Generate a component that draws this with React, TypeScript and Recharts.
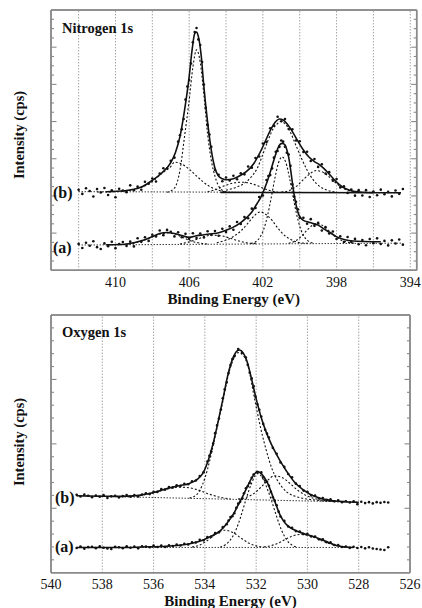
import React from 'react';
import { ComposedChart, Line, Scatter, XAxis, YAxis, ReferenceLine } from 'recharts';

type Pt = [number, number];

// ---------------- Nitrogen 1s panel ----------------
const nTitle = 'Nitrogen 1s';
const nXDomain: [number, number] = [393.65, 413.5];
const nYDomain: [number, number] = [0, 70];
const nLabelTicks = [394, 398, 402, 406, 410];
const nGridTicks = [394, 396, 398, 400, 402, 404, 406, 408, 410, 412];
const nMinorXTicks = [394, 394.5, 395, 395.5, 396, 396.5, 397, 397.5, 398, 398.5, 399, 399.5, 400, 400.5, 401, 401.5, 402, 402.5, 403, 403.5, 404, 404.5, 405, 405.5, 406, 406.5, 407, 407.5, 408, 408.5, 409, 409.5, 410, 410.5, 411, 411.5, 412, 412.5, 413];
const nYTicks = [2.5, 5, 7.5, 10, 12.5, 15, 17.5, 20, 22.5, 25, 27.5, 30, 32.5, 35, 37.5, 40, 42.5, 45, 47.5, 50, 52.5, 55, 57.5, 60, 62.5, 65, 67.5];
const nCurveLabelPos = [20.7, 5.9];
const nCurveLabelText = ['(b)', '(a)'];

// spectrum (b)
const nBaseB: Pt[] = [[412, 21.15], [394.5, 20.85]];
const nBaseBSolid: Pt[] = [[404.3, 20.95], [394.5, 20.85]];
const nFitB: Pt[] = [[410.5, 21.13], [409.5, 21.4], [409.0, 21.81], [408.5, 22.61], [408.0, 24.2], [407.5, 26.11], [407.0, 28.94], [406.75, 31.63], [406.5, 35.93], [406.25, 43.06], [406.0, 52.07], [405.85, 58.93], [405.7, 63.64], [405.6, 64.04], [405.5, 62.83], [405.35, 57.85], [405.2, 49.25], [405.0, 39.83], [404.8, 32.3], [404.6, 27.46], [404.4, 25.3], [404.2, 24.63], [404.0, 24.36], [403.6, 24.63], [403.2, 25.57], [402.9, 26.51], [402.5, 28.67], [402.2, 31.22], [401.9, 34.35], [401.6, 37.58], [401.3, 40.0], [401.1, 40.67], [400.9, 40.4], [400.7, 39.46], [400.4, 37.31], [400.1, 34.75], [399.8, 32.33], [399.5, 30.45], [399.2, 29.24], [398.9, 28.3], [398.6, 26.95], [398.3, 25.34], [398.0, 23.72], [397.7, 22.51], [397.4, 21.71], [397.0, 21.17], [396.5, 20.98], [396.0, 20.9]];
const nB1: Pt[] = [[411.0, 21.05], [410.0, 21.13], [409.0, 21.7], [408.5, 22.5], [408.0, 23.9], [407.5, 26.0], [407.0, 27.9], [406.8, 29.07], [406.5, 28.8], [406.0, 27.19], [405.5, 24.9], [405.0, 22.88], [404.5, 21.67], [404.0, 21.13]];
const nB2: Pt[] = [[407.2, 21.0], [406.8, 22.08], [406.5, 26.92], [406.25, 36.06], [406.0, 45.75], [405.8, 54.6], [405.6, 59.3], [405.4, 56.0], [405.2, 47.09], [405.0, 36.6], [404.8, 29.61], [404.6, 25.3], [404.3, 21.94], [404.0, 21.13]];
const nB3: Pt[] = [[405.0, 21.13], [404.5, 21.81], [404.0, 22.88], [403.5, 23.56], [403.1, 23.69], [402.7, 23.42], [402.3, 22.75], [401.8, 21.71], [401.2, 21.03]];
const nB4: Pt[] = [[404.0, 21.54], [403.5, 22.21], [403.0, 23.42], [402.6, 25.3], [402.3, 27.46], [402.0, 31.22], [401.7, 35.16], [401.4, 38.39], [401.2, 39.46], [401.05, 40.0], [400.8, 39.46], [400.5, 37.04], [400.2, 33.54], [399.9, 30.05], [399.6, 26.95], [399.3, 24.53], [399.0, 22.92], [398.6, 21.71], [398.0, 21.03]];
const nB5: Pt[] = [[401.0, 21.03], [400.5, 21.57], [400.1, 22.92], [399.8, 24.4], [399.5, 25.74], [399.1, 26.82], [398.7, 26.28], [398.3, 24.67], [397.9, 22.92], [397.5, 21.71], [397.0, 21.03]];
const nDotsB: Pt[] = [[412.0, 21.65], [411.8, 20.55], [411.6, 22.05], [411.4, 21.34], [411.2, 19.84], [411.0, 21.84], [410.8, 20.93], [410.6, 22.13], [410.4, 20.26], [410.2, 21.5], [410.0, 19.65], [409.8, 21.9], [409.6, 21.47], [409.4, 20.97], [409.2, 22.84], [409.0, 21.51], [408.8, 22.5], [408.6, 21.65], [408.4, 23.8], [408.2, 23.3], [408.0, 24.69], [407.8, 23.9], [407.6, 26.0], [407.4, 27.45], [407.2, 27.4], [407.0, 29.44], [406.8, 30.3], [406.6, 34.6], [406.5, 36.3], [406.4, 37.9], [406.3, 40.7], [406.2, 45.9], [406.1, 49.4], [406.0, 51.17], [405.9, 55.6], [405.8, 61.3], [405.7, 64.1], [405.6, 65.14], [405.5, 62.1], [405.4, 60.6], [405.3, 56.0], [405.2, 49.95], [405.1, 43.7], [405.0, 39.03], [404.9, 36.5], [404.8, 33.2], [404.6, 26.96], [404.4, 25.7], [404.2, 23.93], [404.0, 24.96], [403.8, 24.15], [403.6, 25.43], [403.4, 24.5], [403.2, 26.07], [403.0, 25.8], [402.8, 27.9], [402.6, 27.6], [402.4, 30.2], [402.2, 30.62], [402.0, 34.1], [401.8, 34.5], [401.6, 38.18], [401.4, 38.9], [401.2, 41.3], [401.0, 40.1], [400.8, 40.7], [400.6, 38.0], [400.4, 37.91], [400.2, 34.9], [400.0, 34.7], [399.8, 31.83], [399.6, 31.9], [399.4, 29.4], [399.2, 29.94], [399.0, 27.8], [398.8, 28.5], [398.6, 26.05], [398.4, 26.4], [398.2, 24.1], [398.0, 24.52], [397.8, 22.3], [397.6, 22.6], [397.4, 20.81], [397.2, 21.7], [397.0, 20.07], [396.8, 21.55], [396.6, 20.1], [396.4, 21.56], [396.2, 19.73], [396.0, 21.2], [395.8, 20.2], [395.6, 21.69], [395.4, 20.48], [395.2, 21.08], [395.0, 19.87], [394.8, 21.47], [394.6, 20.56], [394.4, 21.86]];

// spectrum (a)
const nBaseA: Pt[] = [[412, 6.8], [394.5, 7.3]];
const nFitA: Pt[] = [[410.5, 6.84], [409.5, 7.0], [409.0, 7.43], [408.5, 8.11], [408.0, 9.07], [407.6, 9.89], [407.2, 10.17], [406.8, 9.91], [406.4, 9.38], [406.0, 8.86], [405.6, 9.28], [405.2, 9.55], [404.8, 9.83], [404.4, 10.11], [404.0, 10.8], [403.6, 11.62], [403.2, 12.84], [402.87, 14.22], [402.6, 15.68], [402.33, 17.84], [402.1, 19.73], [401.88, 22.32], [401.7, 24.85], [401.52, 27.71], [401.35, 30.5], [401.2, 32.67], [401.07, 33.88], [400.95, 34.14], [400.8, 33.75], [400.7, 32.41], [400.6, 30.43], [400.47, 26.23], [400.34, 21.47], [400.2, 17.64], [400.07, 15.22], [399.95, 14.14], [399.8, 13.43], [399.5, 12.95], [399.26, 12.55], [399.0, 12.15], [398.72, 11.22], [398.4, 10.29], [397.99, 8.98], [397.6, 8.3], [397.09, 7.86], [396.5, 7.74], [395.6, 7.68]];
const nA0: Pt[] = [[406.5, 7.09], [406.0, 7.65], [405.5, 8.47], [405.0, 9.29], [404.7, 9.43], [404.3, 9.31], [403.8, 8.65], [403.3, 7.87], [402.8, 7.34], [402.3, 7.16]];
const nA1: Pt[] = [[409.5, 6.95], [409.0, 7.29], [408.5, 7.98], [408.0, 8.94], [407.6, 9.75], [407.2, 10.03], [406.8, 9.77], [406.4, 8.98], [406.0, 8.06], [405.5, 7.39], [405.0, 7.08]];
const nA2: Pt[] = [[404.5, 7.42], [404.0, 8.12], [403.6, 9.07], [403.2, 10.56], [402.8, 12.72], [402.5, 14.48], [402.15, 15.7], [401.8, 14.9], [401.5, 13.43], [401.2, 11.42], [400.8, 9.28], [400.4, 8.08], [400.0, 7.42], [399.5, 7.25]];
const nA3: Pt[] = [[402.65, 7.21], [402.35, 7.81], [402.15, 8.92], [401.95, 11.08], [401.75, 14.63], [401.55, 19.45], [401.35, 24.72], [401.15, 28.93], [400.95, 30.51], [400.75, 28.94], [400.55, 24.75], [400.35, 19.48], [400.15, 14.68], [399.95, 11.13], [399.75, 8.99], [399.55, 7.9], [399.25, 7.3]];
const nA4: Pt[] = [[400.6, 7.27], [400.2, 7.96], [399.9, 9.17], [399.6, 10.8], [399.3, 12.15], [399.1, 12.56], [398.8, 12.16], [398.5, 10.96], [398.1, 9.23], [397.7, 8.03], [397.3, 7.45], [397.0, 7.29]];
const nDotsA: Pt[] = [[412.0, 7.1], [411.8, 6.0], [411.6, 7.41], [411.4, 6.62], [411.2, 7.82], [411.0, 6.23], [410.8, 5.73], [410.6, 7.24], [410.4, 6.45], [410.2, 7.66], [410.0, 5.96], [409.8, 7.07], [409.6, 7.6], [409.4, 6.55], [409.2, 7.7], [409.0, 6.43], [408.8, 8.6], [408.6, 7.65], [408.4, 8.9], [408.2, 7.9], [408.0, 9.57], [407.8, 9.1], [407.6, 10.69], [407.4, 9.45], [407.2, 10.87], [407.0, 10.35], [406.8, 9.11], [406.6, 10.25], [406.4, 8.88], [406.2, 9.8], [406.0, 8.46], [405.8, 9.97], [405.6, 8.68], [405.4, 9.9], [405.2, 8.85], [405.0, 10.5], [404.8, 9.53], [404.6, 10.57], [404.4, 9.31], [404.2, 11.15], [404.0, 10.3], [403.8, 11.8], [403.6, 10.92], [403.4, 13.0], [403.2, 12.44], [403.0, 14.3], [402.8, 14.0], [402.6, 16.58], [402.4, 16.75], [402.2, 19.7], [402.0, 20.1], [401.8, 24.3], [401.7, 25.35], [401.6, 25.6], [401.5, 27.4], [401.4, 30.3], [401.3, 31.9], [401.2, 32.07], [401.1, 33.2], [401.0, 34.9], [400.9, 34.6], [400.8, 33.25], [400.7, 31.6], [400.6, 31.13], [400.5, 28.1], [400.4, 23.1], [400.3, 19.8], [400.2, 18.44], [400.1, 16.4], [400.0, 14.1], [399.8, 14.13], [399.6, 12.5], [399.4, 13.75], [399.2, 11.95], [399.0, 12.75], [398.8, 10.7], [398.6, 11.6], [398.4, 9.89], [398.2, 10.45], [398.0, 8.4], [397.8, 9.15], [397.6, 7.6], [397.4, 8.95], [397.2, 7.6], [397.0, 8.45], [396.8, 7.0], [396.6, 8.15], [396.4, 6.73], [396.2, 8.42], [396.0, 7.3], [395.8, 8.59], [395.6, 7.08], [395.4, 7.9], [395.2, 6.7], [395.0, 8.05], [394.8, 7.2], [394.6, 8.3], [394.4, 6.9]];

// ---------------- Oxygen 1s panel ----------------
const oTitle = 'Oxygen 1s';
const oXDomain: [number, number] = [526, 540];
const oYDomain: [number, number] = [0, 200];
const oLabelTicks = [526, 528, 530, 532, 534, 536, 538, 540];
const oGridTicks = [528, 530, 532, 534, 536, 538];
const oMinorXTicks = [526.5, 527, 527.5, 528, 528.5, 529, 529.5, 530, 530.5, 531, 531.5, 532, 532.5, 533, 533.5, 534, 534.5, 535, 535.5, 536, 536.5, 537, 537.5, 538, 538.5, 539, 539.5];
const oYTicks = [10, 20, 30, 40, 50, 60, 70, 80, 90, 100, 110, 120, 130, 140, 150, 160, 170, 180, 190];
const oCurveLabelPos = [58.0, 19.95];
const oCurveLabelText = ['(b)', '(a)'];

// spectrum (b)
const oBaseB: Pt[] = [[539, 59.7], [528, 54.75]];
const oFitB: Pt[] = [[539.0, 59.7], [538.0, 59.3], [537.5, 59.2], [537.0, 59.4], [536.5, 60.3], [536.0, 62.3], [535.5, 65.2], [535.0, 67.5], [534.6, 69.3], [534.3, 72.5], [534.1, 76.5], [533.9, 85.4], [533.7, 98.6], [533.5, 115.7], [533.3, 134.3], [533.1, 153.7], [532.9, 166.9], [532.75, 172.0], [532.65, 172.8], [532.5, 170.4], [532.35, 163.8], [532.2, 152.2], [532.0, 135.1], [531.8, 120.3], [531.6, 108.7], [531.4, 99.4], [531.2, 91.6], [531.0, 84.6], [530.8, 78.4], [530.5, 70.2], [530.2, 64.8], [529.9, 60.9], [529.5, 57.8], [529.0, 55.9], [528.5, 55.1], [528.0, 54.7]];
const oBL: Pt[] = [[537.0, 59.1], [536.5, 60.0], [536.0, 61.9], [535.5, 64.7], [535.0, 66.4], [534.6, 65.9], [534.2, 63.7], [533.8, 60.8], [533.4, 58.5], [533.0, 57.3]];
const oBM: Pt[] = [[534.6, 57.9], [534.3, 61.0], [534.1, 68.0], [533.9, 80.0], [533.7, 96.5], [533.5, 115.0], [533.3, 133.0], [533.1, 152.0], [532.9, 165.0], [532.7, 170.8], [532.5, 168.5], [532.3, 159.0], [532.1, 138.9], [531.95, 124.0], [531.8, 110.2], [531.6, 94.6], [531.4, 81.6], [531.2, 72.8], [531.0, 66.7], [530.8, 62.5], [530.5, 59.5], [530.2, 57.8], [529.8, 56.6], [529.3, 55.6], [528.8, 55.1]];
const oBR: Pt[] = [[532.7, 57.3], [532.4, 58.3], [532.1, 61.3], [531.8, 66.6], [531.5, 72.6], [531.3, 75.2], [531.0, 74.0], [530.7, 69.6], [530.4, 64.3], [530.1, 60.4], [529.7, 57.4], [529.3, 55.9], [528.9, 55.4]];
const oDotsB: Pt[] = [[539.0, 60.5], [538.85, 59.14], [538.7, 60.58], [538.55, 59.72], [538.4, 58.56], [538.25, 59.8], [538.1, 59.04], [537.95, 60.19], [537.8, 58.02], [537.65, 59.25], [537.5, 59.7], [537.35, 58.43], [537.2, 59.46], [537.05, 60.29], [536.9, 59.0], [536.75, 60.2], [536.6, 59.2], [536.45, 60.6], [536.3, 61.7], [536.15, 61.0], [536.0, 62.7], [535.85, 62.7], [535.7, 64.9], [535.55, 64.5], [535.4, 66.4], [535.25, 66.2], [535.1, 67.8], [534.95, 67.2], [534.8, 68.9], [534.65, 68.7], [534.5, 71.0], [534.35, 71.5], [534.2, 75.1], [534.05, 78.0], [533.9, 86.3], [533.825, 90.8], [533.75, 94.3], [533.675, 100.2], [533.6, 108.3], [533.525, 114.3], [533.45, 119.6], [533.375, 126.6], [533.3, 135.3], [533.225, 142.4], [533.15, 147.7], [533.075, 154.9], [533.0, 161.2], [532.925, 165.9], [532.85, 167.9], [532.7, 173.6], [532.55, 170.7], [532.4, 167.0], [532.325, 161.2], [532.25, 155.2], [532.175, 150.8], [532.1, 144.8], [532.025, 136.6], [531.95, 130.6], [531.875, 126.4], [531.8, 121.2], [531.725, 115.5], [531.65, 110.9], [531.575, 107.9], [531.5, 104.9], [531.35, 96.9], [531.2, 92.3], [531.05, 85.6], [530.9, 82.1], [530.75, 76.6], [530.6, 74.0], [530.45, 69.1], [530.3, 67.3], [530.15, 63.7], [530.0, 62.8], [529.85, 60.0], [529.7, 59.8], [529.55, 57.6], [529.4, 57.9], [529.25, 56.5], [529.1, 56.9], [528.95, 55.5], [528.8, 56.1], [528.65, 54.7], [528.5, 55.4], [528.35, 54.5], [528.2, 55.45], [528.05, 53.2], [527.9, 55.05], [527.75, 54.0], [527.6, 54.75], [527.45, 53.8], [527.3, 54.75], [527.15, 54.2], [527.0, 54.85], [526.85, 54.5]];

// spectrum (a)
const oBaseA: Pt[] = [[539, 19.6], [528, 19.6]];
const oFitA: Pt[] = [[539.0, 19.6], [537.0, 19.6], [536.5, 19.95], [535.5, 20.57], [534.82, 21.74], [534.5, 22.9], [534.04, 25.62], [533.8, 27.95], [533.52, 30.82], [533.3, 34.55], [533.13, 38.59], [532.9, 45.03], [532.73, 51.48], [532.5, 60.17], [532.34, 67.0], [532.15, 74.15], [531.95, 78.65], [531.8, 76.86], [531.56, 69.64], [531.3, 56.68], [531.04, 43.71], [530.85, 38.04], [530.65, 34.71], [530.4, 32.22], [530.13, 30.28], [529.8, 28.3], [529.48, 26.0], [529.15, 23.29], [528.83, 20.96], [528.5, 19.95], [528.2, 19.6]];
const oAL: Pt[] = [[534.5, 20.0], [534.2, 21.5], [533.9, 25.0], [533.6, 29.7], [533.26, 33.0], [532.9, 31.2], [532.6, 27.0], [532.3, 23.1], [532.0, 20.8], [531.7, 19.8]];
const oAM: Pt[] = [[533.4, 19.8], [533.2, 21.7], [533.0, 25.6], [532.8, 32.6], [532.6, 43.5], [532.4, 56.7], [532.2, 68.3], [532.05, 74.9], [531.95, 76.9], [531.8, 74.9], [531.6, 66.8], [531.4, 55.9], [531.2, 43.5], [531.0, 32.6], [530.8, 25.2], [530.6, 21.4], [530.4, 19.8]];
const oAR: Pt[] = [[531.7, 20.0], [531.4, 21.1], [531.1, 23.3], [530.8, 26.5], [530.5, 29.0], [530.26, 29.7], [530.0, 29.0], [529.7, 27.0], [529.4, 24.5], [529.1, 22.3], [528.8, 20.8], [528.5, 19.9]];
const oDotsA: Pt[] = [[539.0, 19.17], [538.85, 20.27], [538.7, 18.67], [538.55, 19.87], [538.4, 20.17], [538.25, 19.07], [538.1, 20.57], [537.95, 19.37], [537.8, 18.77], [537.65, 18.37], [537.5, 20.07], [537.35, 19.77], [537.2, 18.97], [537.05, 20.47], [536.9, 19.4], [536.75, 20.2], [536.6, 18.9], [536.45, 20.58], [536.3, 20.2], [536.15, 19.7], [536.0, 21.06], [535.85, 19.95], [535.7, 21.15], [535.55, 19.95], [535.4, 21.2], [535.25, 20.65], [535.1, 21.85], [534.95, 21.1], [534.8, 22.5], [534.65, 21.85], [534.5, 23.5], [534.35, 23.4], [534.2, 25.5], [534.05, 25.1], [533.9, 27.6], [533.75, 27.9], [533.6, 30.7], [533.45, 31.3], [533.3, 35.35], [533.15, 37.6], [533.075, 40.5], [533.0, 43.2], [532.925, 43.9], [532.85, 46.1], [532.775, 50.3], [532.7, 53.6], [532.625, 55.0], [532.55, 57.4], [532.475, 61.7], [532.4, 65.5], [532.325, 67.1], [532.25, 69.6], [532.175, 73.7], [532.1, 76.2], [531.95, 77.95], [531.8, 77.86], [531.725, 74.1], [531.65, 71.5], [531.575, 70.6], [531.5, 67.5], [531.425, 62.7], [531.35, 58.5], [531.275, 55.9], [531.2, 52.3], [531.125, 47.4], [531.05, 43.6], [530.9, 40.2], [530.75, 35.9], [530.6, 34.8], [530.45, 32.3], [530.3, 32.0], [530.15, 30.0], [530.0, 30.1], [529.85, 28.1], [529.7, 28.0], [529.55, 25.9], [529.4, 25.9], [529.25, 23.7], [529.1, 23.5], [528.95, 21.5], [528.8, 21.4], [528.65, 20.0], [528.5, 20.35], [528.35, 19.25], [528.2, 20.17], [528.05, 19.2], [527.9, 20.0], [527.75, 18.9], [527.6, 19.8], [527.45, 18.8], [527.3, 18.4], [527.15, 18.0], [527.0, 17.6], [526.85, 19.8]];

// ---------------- rendering helpers ----------------
const FONT = '"Liberation Serif", "Times New Roman", Times, serif';
const INK = '#111111';
const FRAME = '#8a8a8a';
const GRID = '#7a7a7a';
const serif = { fontFamily: FONT };

const xy = (pts: Pt[]) => pts.map(([x, y]) => ({ x, y }));

const dotShape = (p: any) => <circle cx={p.cx} cy={p.cy} r={1.3} fill={INK} />;

const xMinorTick = (dir: number) => (p: any) => (
  <line x1={p.x} y1={p.y} x2={p.x} y2={p.y + dir * 3.5} stroke={FRAME} strokeWidth={1.1} />
);

// left mirrored axis: draws inward ticks, plus the (a)/(b) curve labels
const yLeftTick = (majorStep: number, labelPos: number[], labelText: string[], labelDx: number) => (p: any) => {
  const v = p.payload ? p.payload.value : 0;
  const li = labelPos.indexOf(v);
  if (li >= 0) {
    return (
      <text x={p.x + labelDx} y={p.y + 5} style={serif} fontFamily={FONT} fontWeight="bold" fontSize={16} fill={INK}>
        {labelText[li]}
      </text>
    );
  }
  const r = v / majorStep;
  const len = Math.abs(r - Math.round(r)) < 1e-6 ? 5.5 : 3;
  return <line x1={p.x} y1={p.y} x2={p.x + len} y2={p.y} stroke={FRAME} strokeWidth={1.1} />;
};

const yRightTick = (majorStep: number) => (p: any) => {
  const v = p.payload ? p.payload.value : 0;
  const r = v / majorStep;
  const len = Math.abs(r - Math.round(r)) < 1e-6 ? 5.5 : 3;
  return <line x1={p.x} y1={p.y} x2={p.x - len} y2={p.y} stroke={FRAME} strokeWidth={1.1} />;
};

const xLabelTick = (dy: number) => (p: any) => (
  <text x={p.x} y={p.y + dy} textAnchor="middle" style={serif} fontFamily={FONT} fontSize={14} fill={INK}>
    {p.payload ? p.payload.value : ''}
  </text>
);

const xTitle = (cx: number, y: number) => () => (
  <text x={cx} y={y} textAnchor="middle" style={serif} fontFamily={FONT} fontWeight="bold" fontSize={15} fill={INK}>
    Binding Energy (eV)
  </text>
);

const yTitle = (cy: number) => () => (
  <text
    transform={`translate(19 ${cy}) rotate(-90)`}
    textAnchor="middle"
    dominantBaseline="central"
    style={serif}
    fontFamily={FONT}
    fontWeight="bold"
    fontSize={14.5}
    fill={INK}
  >
    Intensity (cps)
  </text>
);

const panelTitle = (text: string, x: number, y: number) => () => (
  <text x={x} y={y} style={serif} fontFamily={FONT} fontWeight="bold" fontSize={14.5} fill={INK}>
    {text}
  </text>
);

type PanelProps = {
  width: number;
  height: number;
  margin: { top: number; right: number; bottom: number; left: number };
  xDomain: [number, number];
  yDomain: [number, number];
  labelTicks: number[];
  gridTicks: number[];
  minorXTicks: number[];
  yTicks: number[];
  yMajorStep: number;
  curveLabelPos: number[];
  curveLabelText: string[];
  curveLabelDx: number;
  xAxisHeight: number;
  labelDy: number;
  xTitleY: number;
  yTitleCy: number;
  title: string;
  titleY: number;
  components: Pt[][];
  dottedBases: Pt[][];
  solidLines: Pt[][];
  dots: Pt[][];
};

function Panel(props: PanelProps) {
  const plotLeft = props.margin.left + 51;
  const plotRight = props.width - props.margin.right;
  const frame = { stroke: FRAME, strokeWidth: 1.5 };
  const common = { allowDataOverflow: true, interval: 0 as const, tickSize: 0, tickMargin: 0, tickLine: false };
  return (
    <ComposedChart width={props.width} height={props.height} margin={props.margin} style={{ fontFamily: FONT }}>
      <XAxis
        xAxisId="x"
        dataKey="x"
        type="number"
        domain={props.xDomain}
        reversed
        {...common}
        ticks={props.labelTicks}
        axisLine={frame}
        tick={xLabelTick(props.labelDy)}
        height={props.xAxisHeight}
        label={xTitle((plotLeft + plotRight) / 2, props.xTitleY)}
      />
      <XAxis
        xAxisId="xb"
        type="number"
        domain={props.xDomain}
        reversed
        {...common}
        orientation="bottom"
        mirror
        height={1}
        ticks={props.minorXTicks}
        axisLine={false}
        tick={xMinorTick(-1)}
      />
      <XAxis
        xAxisId="xt"
        type="number"
        domain={props.xDomain}
        reversed
        {...common}
        orientation="top"
        mirror
        height={1}
        ticks={props.minorXTicks}
        axisLine={frame}
        tick={xMinorTick(1)}
        label={panelTitle(props.title, 62, props.titleY)}
      />
      <YAxis
        yAxisId="y"
        type="number"
        domain={props.yDomain}
        allowDataOverflow
        width={51}
        tick={false}
        tickLine={false}
        axisLine={frame}
        label={yTitle(props.yTitleCy)}
      />
      <YAxis
        yAxisId="yl"
        type="number"
        domain={props.yDomain}
        {...common}
        orientation="left"
        mirror
        width={1}
        ticks={[...props.yTicks, ...props.curveLabelPos]}
        axisLine={false}
        tick={yLeftTick(props.yMajorStep, props.curveLabelPos, props.curveLabelText, props.curveLabelDx)}
      />
      <YAxis
        yAxisId="yr"
        type="number"
        domain={props.yDomain}
        {...common}
        orientation="right"
        mirror
        width={1}
        ticks={props.yTicks}
        axisLine={frame}
        tick={yRightTick(props.yMajorStep)}
      />
      {props.gridTicks.map((v) => (
        <ReferenceLine key={`g${v}`} xAxisId="x" yAxisId="y" x={v} stroke={GRID} strokeWidth={1} strokeDasharray="1 2" />
      ))}
      {/* plot frame */}
      <ReferenceLine xAxisId="x" yAxisId="y" x={props.xDomain[0]} stroke={FRAME} strokeWidth={1.5} />
      <ReferenceLine xAxisId="x" yAxisId="y" x={props.xDomain[1]} stroke={FRAME} strokeWidth={1.5} />
      <ReferenceLine xAxisId="x" yAxisId="y" y={props.yDomain[0]} stroke={FRAME} strokeWidth={1.5} />
      <ReferenceLine xAxisId="x" yAxisId="y" y={props.yDomain[1]} stroke={FRAME} strokeWidth={1.5} />
      {props.dottedBases.map((c, i) => (
        <Line
          key={`b${i}`}
          xAxisId="x"
          yAxisId="y"
          data={xy(c)}
          dataKey="y"
          type="linear"
          stroke={INK}
          strokeWidth={1}
          strokeDasharray="1.2 1.8"
          dot={false}
          activeDot={false}
          isAnimationActive={false}
        />
      ))}
      {props.components.map((c, i) => (
        <Line
          key={`c${i}`}
          xAxisId="x"
          yAxisId="y"
          data={xy(c)}
          dataKey="y"
          type="monotone"
          stroke={INK}
          strokeWidth={1.1}
          strokeDasharray="2 2"
          dot={false}
          activeDot={false}
          isAnimationActive={false}
        />
      ))}
      {props.solidLines.map((c, i) => (
        <Line
          key={`f${i}`}
          xAxisId="x"
          yAxisId="y"
          data={xy(c)}
          dataKey="y"
          type="monotone"
          stroke={INK}
          strokeWidth={1.6}
          dot={false}
          activeDot={false}
          isAnimationActive={false}
        />
      ))}
      {props.dots.map((c, i) => (
        <Scatter
          key={`d${i}`}
          xAxisId="x"
          yAxisId="y"
          data={xy(c)}
          dataKey="y"
          shape={dotShape}
          isAnimationActive={false}
        />
      ))}
    </ComposedChart>
  );
}

export default function App() {
  return (
    <div style={{ position: 'absolute', left: 0, top: 0, width: 422, height: 608, background: '#ffffff' }}>
      <div style={{ position: 'absolute', left: 0, top: 0 }}>
        <Panel
          width={422}
          height={312}
          margin={{ top: 10, right: 5.3, bottom: 0, left: 0 }}
          xDomain={nXDomain}
          yDomain={nYDomain}
          labelTicks={nLabelTicks}
          gridTicks={nGridTicks}
          minorXTicks={nMinorXTicks}
          yTicks={nYTicks}
          yMajorStep={10}
          curveLabelPos={nCurveLabelPos}
          curveLabelText={nCurveLabelText}
          curveLabelDx={2}
          xAxisHeight={41.7}
          labelDy={17}
          xTitleY={304}
          yTitleCy={135}
          title={nTitle}
          titleY={33}
          components={[nB1, nB2, nB3, nB4, nB5, nA0, nA1, nA2, nA3, nA4]}
          dottedBases={[nBaseB, nBaseA]}
          solidLines={[nBaseBSolid, nFitB, nFitA]}
          dots={[nDotsB, nDotsA]}
        />
      </div>
      <div style={{ position: 'absolute', left: 0, top: 312 }}>
        <Panel
          width={422}
          height={296}
          margin={{ top: 3, right: 12, bottom: 0, left: 0 }}
          xDomain={oXDomain}
          yDomain={oYDomain}
          labelTicks={oLabelTicks}
          gridTicks={oGridTicks}
          minorXTicks={oMinorXTicks}
          yTicks={oYTicks}
          yMajorStep={50}
          curveLabelPos={oCurveLabelPos}
          curveLabelText={oCurveLabelText}
          curveLabelDx={4}
          xAxisHeight={35.3}
          labelDy={16.6}
          xTitleY={294}
          yTitleCy={130}
          title={oTitle}
          titleY={25}
          components={[oBL, oBM, oBR, oAL, oAM, oAR]}
          dottedBases={[oBaseB, oBaseA]}
          solidLines={[oFitB, oFitA]}
          dots={[oDotsB, oDotsA]}
        />
      </div>
    </div>
  );
}
